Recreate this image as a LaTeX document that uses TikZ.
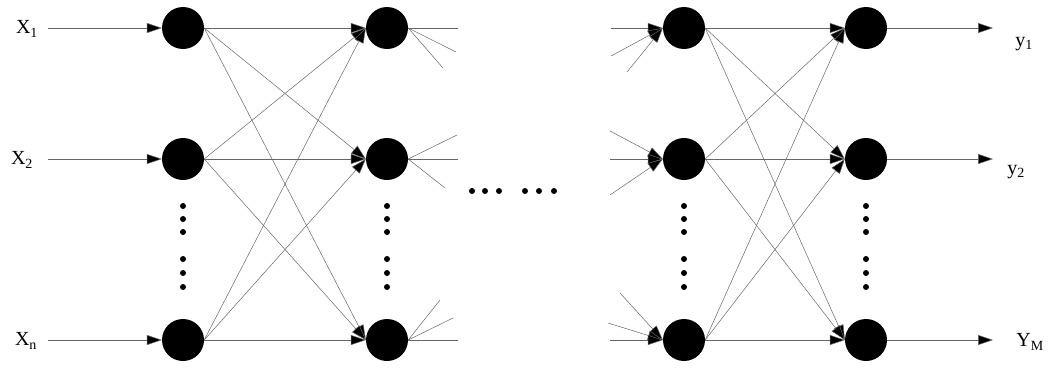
\documentclass[tikz,border=0pt]{standalone}
\usepackage{fontspec}
\setmainfont{Liberation Serif}
\usetikzlibrary{arrows.meta}
\begin{document}
\begin{tikzpicture}[x=1pt,y=-1pt,
  neuron/.style={circle,fill=black,draw=none,minimum size=42pt,inner sep=0pt},
  dotn/.style={circle,fill=black,draw=none,minimum size=6pt,inner sep=0pt},
  wire/.style={draw=black!60,line width=0.5pt},
  tip/.style={wire,-{Triangle[length=15pt,width=10pt,fill=black]}},
  lbl/.style={font=\fontsize{20}{20}\selectfont,inner sep=0pt}]
\useasboundingbox (0,0) rectangle (1048,367);
% neurons
\foreach \c/\x in {1/183,2/387,3/684,4/866}{
  \node[neuron] (n\c a) at (\x,28) {};
  \node[neuron] (n\c b) at (\x,159) {};
  \node[neuron] (n\c c) at (\x,340) {};
  \foreach \k/\y in {1/206,2/219,3/232,4/259,5/273,6/287}
    \node[dotn] (d\c\k) at (\x,\y) {};
}
% middle dots
\foreach \k/\x in {1/472,2/485,3/499,4/525,5/539,6/554}
  \node[dotn] (m\k) at (\x,191) {};
% labels
\node[lbl] (lx1) at (27,29) {X\textsubscript{1}};
\node[lbl] (lx2) at (22,160) {X\textsubscript{2}};
\node[lbl] (lxn) at (26,341) {X\textsubscript{n}};
\node[lbl] (ly1) at (1024,44) {y\textsubscript{1}};
\node[lbl] (ly2) at (1016,172) {y\textsubscript{2}};
\node[lbl] (lym) at (1030,342) {Y\textsubscript{M}};
% input / output
\foreach \r/\y in {a/28,b/159,c/340}{
  \coordinate (in\r) at (48,\y);
  \coordinate (out\r) at (993,\y);
  \draw[tip] (in\r) -- (n1\r.west);
  \draw[tip] (n4\r.east) -- (out\r);
}
% full connections
\foreach \s in {a,b,c}{
  \foreach \t in {a,b,c}{
    \draw[tip] (n1\s.east) -- (n2\t.west);
    \draw[tip] (n3\s.east) -- (n4\t.west);
  }
}
% stubs out of column 2
\coordinate (s1) at (458,28);  \coordinate (s2) at (456,52);  \coordinate (s3) at (443,68);
\coordinate (s4) at (457,135); \coordinate (s5) at (458,159); \coordinate (s6) at (445,188);
\coordinate (s7) at (440,300); \coordinate (s8) at (453,318); \coordinate (s9) at (458,340);
\foreach \k in {1,2,3} \draw[wire] (n2a.east) -- (s\k);
\foreach \k in {4,5,6} \draw[wire] (n2b.east) -- (s\k);
\foreach \k in {7,8,9} \draw[wire] (n2c.east) -- (s\k);
% stubs into column 3
\coordinate (t1) at (611,28);  \coordinate (t2) at (611,56);  \coordinate (t3) at (627,72);
\coordinate (t4) at (610,131); \coordinate (t5) at (610,159); \coordinate (t6) at (610,195);
\coordinate (t7) at (620,293); \coordinate (t8) at (608,323); \coordinate (t9) at (610,340);
\foreach \k in {1,2,3} \draw[tip] (t\k) -- (n3a.west);
\foreach \k in {4,5,6} \draw[tip] (t\k) -- (n3b.west);
\foreach \k in {7,8,9} \draw[tip] (t\k) -- (n3c.west);
\end{tikzpicture}
\end{document}
